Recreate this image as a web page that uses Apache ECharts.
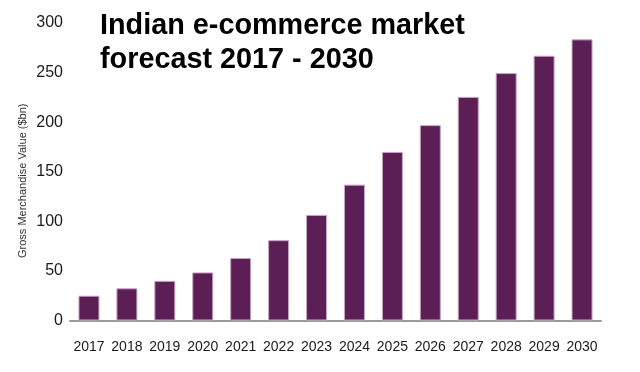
<!DOCTYPE html>
<html>
<head>
<meta charset="utf-8">
<script src="https://cdn.jsdelivr.net/npm/echarts@6/dist/echarts.min.js"></script>
<style>
html,body{margin:0;padding:0;background:#fff;}
#chart{width:640px;height:372px;}
</style>
</head>
<body>
<div id="chart"></div>
<script>
const titleText = "Indian e-commerce market\nforecast 2017 - 2030";
const yAxisName = "Gross Merchandise Value ($bn)";
const years = ["2017","2018","2019","2020","2021","2022","2023","2024","2025","2026","2027","2028","2029","2030"];
const gmv = [25, 32.5, 40, 48.5, 63, 81, 106.5, 137, 170, 197, 225.5, 249.5, 267, 283.5];
const yTicks = [0, 50, 100, 150, 200, 250, 300];

const chart = echarts.init(document.getElementById('chart'), null, {renderer: 'canvas'});
chart.setOption({
  animation: false,
  backgroundColor: '#ffffff',
  title: {
    text: titleText,
    left: 100,
    top: 9,
    padding: 0,
    textStyle: {
      fontFamily: 'Liberation Sans, Arial, sans-serif',
      fontWeight: 'bold',
      fontSize: 28.8,
      lineHeight: 34,
      color: '#000000'
    }
  },
  grid: {left: 70, right: 39, top: 23, bottom: 51.5, containLabel: false},
  xAxis: {
    type: 'category',
    data: years,
    axisLine: {show: true, lineStyle: {color: '#9a9a9a', width: 2}},
    axisTick: {show: false},
    axisLabel: {
      interval: 0,
      margin: 20,
      fontFamily: 'Liberation Sans, Arial, sans-serif',
      fontSize: 14,
      color: '#1a1a1a'
    },
    splitLine: {show: false}
  },
  yAxis: {
    type: 'value',
    min: yTicks[0],
    max: yTicks[yTicks.length - 1],
    interval: 50,
    name: yAxisName,
    nameLocation: 'middle',
    nameGap: 42,
    nameMoveOverlap: false,
    nameRotate: 90,
    nameTextStyle: {
      fontFamily: 'Liberation Sans, Arial, sans-serif',
      fontSize: 11,
      color: '#333333',
      padding: [0, 18, 0, 0]
    },
    axisLine: {show: false},
    axisTick: {show: false},
    splitLine: {show: false},
    axisLabel: {
      margin: 7,
      fontFamily: 'Liberation Sans, Arial, sans-serif',
      fontSize: 16,
      color: '#1a1a1a'
    }
  },
  series: [{
    type: 'bar',
    data: gmv,
    barWidth: 21,
    itemStyle: {color: '#5b1f56', borderColor: '#c6a6c2', borderWidth: 1}
  }]
});
</script>
</body>
</html>
